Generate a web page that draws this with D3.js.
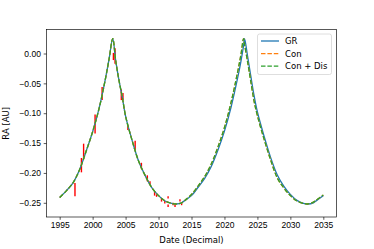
<!DOCTYPE html>
<html>
<head>
<meta charset="utf-8">
<script src="https://cdn.jsdelivr.net/npm/d3@7"></script>
<style>
  body { margin: 0; background: #fff; }
  svg { display: block; font-family: 'DejaVu Sans', sans-serif; }
</style>
</head>
<body>
<svg id="chart" width="374" height="249"></svg>
<script>
// model curves, sampled in decimal years
const years = [1995, 1996, 1997, 1998, 1999, 2000, 2001, 2002, 2002.5, 2003.05,
  2003.5, 2004, 2004.5, 2005, 2006, 2007, 2008, 2009, 2010, 2011,
  2012, 2012.7, 2013.5, 2014, 2015, 2016, 2017, 2018, 2019, 2020,
  2021, 2022, 2022.5, 2022.9, 2023.05, 2023.5, 2024, 2024.5, 2025, 2026,
  2027, 2028, 2029, 2030, 2031, 2032, 2032.6, 2033.5, 2034, 2035]

const raGR = [-0.241, -0.230, -0.217, -0.195, -0.164, -0.131, -0.091, -0.039, -0.009, 0.025,
  -0.012, -0.045, -0.073, -0.105, -0.146, -0.181, -0.205, -0.225, -0.238, -0.247,
  -0.251, -0.252, -0.250, -0.246, -0.238, -0.224, -0.209, -0.189, -0.162, -0.130,
  -0.090, -0.041, -0.013, 0.013, 0.025, -0.004, -0.038, -0.071, -0.098, -0.138,
  -0.174, -0.203, -0.222, -0.236, -0.246, -0.251, -0.252, -0.250, -0.246, -0.238]

const raCon = [-0.241, -0.230, -0.217, -0.195, -0.164, -0.131, -0.091, -0.039, -0.009, 0.025,
  -0.012, -0.045, -0.073, -0.105, -0.146, -0.181, -0.205, -0.225, -0.238, -0.247,
  -0.251, -0.252, -0.250, -0.246, -0.236, -0.222, -0.206, -0.185, -0.157, -0.124,
  -0.082, -0.031, -0.002, 0.025, 0.015, -0.013, -0.047, -0.080, -0.104, -0.143,
  -0.178, -0.208, -0.225, -0.238, -0.247, -0.251, -0.252, -0.249, -0.245, -0.237]

const raConDis = [-0.241, -0.230, -0.217, -0.195, -0.164, -0.131, -0.091, -0.039, -0.009, 0.025,
  -0.012, -0.045, -0.073, -0.105, -0.146, -0.181, -0.205, -0.225, -0.238, -0.247,
  -0.251, -0.252, -0.250, -0.246, -0.236, -0.222, -0.206, -0.185, -0.157, -0.124,
  -0.082, -0.031, -0.002, 0.025, 0.015, -0.013, -0.047, -0.080, -0.104, -0.143,
  -0.178, -0.208, -0.225, -0.238, -0.247, -0.251, -0.252, -0.249, -0.245, -0.237]

// observations with errors
const obsYears = [1997.32, 1998.30, 1998.63, 2000.37, 2001.44, 2003.15, 2003.40, 2004.35, 2004.60, 2005.35,
  2006.45, 2007.40, 2008.30, 2008.70, 2009.40, 2009.70, 2010.45, 2010.95, 2011.45, 2011.45,
  2012.20, 2012.50, 2013.25, 2013.50, 2015.50]
const obsRA = [-0.228, -0.187, -0.164, -0.118, -0.067, -0.005, -0.004, -0.069, -0.072, -0.124,
  -0.154, -0.188, -0.209, -0.217, -0.235, -0.238, -0.245, -0.249, -0.241, -0.255,
  -0.252, -0.255, -0.246, -0.252, -0.230]
const obsErr = [0.011, 0.012, 0.013, 0.016, 0.011, 0.006, 0.013, 0.009, 0.006, 0.004,
  0.008, 0.005, 0.005, 0.003, 0.003, 0.002, 0.003, 0.002, 0.002, 0.002,
  0.002, 0.002, 0.002, 0.002, 0.001]

const xTicks = [1995, 2000, 2005, 2010, 2015, 2020, 2025, 2030, 2035]
const yTicks = [0.00, -0.05, -0.10, -0.15, -0.20, -0.25]

const fontSize = 8.5

const svg = d3.select('#chart')
const margin = {top: 29.5, right: 37.5, bottom: 32, left: 46.5}
const width = 374 - margin.left - margin.right
const height = 249 - margin.top - margin.bottom
const g = svg.append('g')
  .attr('transform', 'translate(' + margin.left + ',' + margin.top + ')')

const x = d3.scaleLinear().domain([1993, 2037]).range([0, width])
const y = d3.scaleLinear().domain([-0.2738, 0.0402]).range([height, 0])

// error bars
g.append('g').selectAll('line')
  .data(obsYears)
  .join('line')
    .attr('x1', (d) => x(d))
    .attr('x2', (d) => x(d))
    .attr('y1', (d, i) => y(obsRA[i] - obsErr[i]))
    .attr('y2', (d, i) => y(obsRA[i] + obsErr[i]))
    .attr('stroke', '#ff0000')
    .attr('stroke-width', 1.4)

const series = [
  {name: 'GR', vals: raGR, color: '#1f77b4', dash: null},
  {name: 'Con', vals: raCon, color: '#ff7f0e', dash: '4.5,1.9'},
  {name: 'Con + Dis', vals: raConDis, color: '#2ca02c', dash: '4.5,1.9'}
]

const line = d3.line()
  .x((d) => x(d[0]))
  .y((d) => y(d[1]))
  .curve(d3.curveCatmullRom.alpha(0.5))

series.forEach((s) => {
  g.append('path')
    .datum(years.map((yr, i) => [yr, s.vals[i]]))
    .attr('fill', 'none')
    .attr('stroke', s.color)
    .attr('stroke-width', 1.3)
    .attr('stroke-dasharray', s.dash)
    .attr('d', line)
})

// x axis
const xAxis = g.append('g')
  .attr('transform', 'translate(0,' + height + ')')
  .call(d3.axisBottom(x).tickValues(xTicks).tickFormat(d3.format('d')).tickSize(2.8).tickPadding(2.6))
xAxis.select('.domain').remove()
xAxis.selectAll('line').attr('stroke-width', 0.65)
xAxis.selectAll('text').attr('font-size', fontSize).attr('fill', '#000')

// y axis
const yAxis = g.append('g')
  .call(d3.axisLeft(y).tickValues(yTicks).tickFormat((d) => d3.format('.2f')(d).replace('-', '\u2212')).tickSize(2.8).tickPadding(2.8))
yAxis.select('.domain').remove()
yAxis.selectAll('line').attr('stroke-width', 0.65)
yAxis.selectAll('text').attr('font-size', fontSize).attr('fill', '#000')

// frame
g.append('rect')
  .attr('width', width)
  .attr('height', height)
  .attr('fill', 'none')
  .attr('stroke', '#000')
  .attr('stroke-width', 0.65)

// axis labels
svg.append('text')
  .attr('x', margin.left + width / 2)
  .attr('y', 243)
  .attr('text-anchor', 'middle')
  .attr('font-size', fontSize)
  .text('Date (Decimal)')

svg.append('text')
  .attr('transform', 'translate(8.5,' + (margin.top + height / 2) + ') rotate(-90)')
  .attr('text-anchor', 'middle')
  .attr('font-size', fontSize)
  .text('RA [AU]')

// legend
const legend = svg.append('g').attr('transform', 'translate(257.5,34)')
legend.append('rect')
  .attr('width', 74)
  .attr('height', 40.5)
  .attr('rx', 2)
  .attr('fill', '#fff')
  .attr('fill-opacity', 0.8)
  .attr('stroke', '#cccccc')
  .attr('stroke-width', 0.65)

series.forEach((s, i) => {
  let row = legend.append('g').attr('transform', 'translate(0,' + (7 + i * 12.6) + ')')
  row.append('line')
    .attr('x1', 3.5)
    .attr('x2', 21.5)
    .attr('stroke', s.color)
    .attr('stroke-width', 1.3)
    .attr('stroke-dasharray', s.dash)
  row.append('text')
    .attr('x', 27.5)
    .attr('dy', '0.35em')
    .attr('font-size', fontSize)
    .text(s.name)
})
</script>
</body>
</html>
